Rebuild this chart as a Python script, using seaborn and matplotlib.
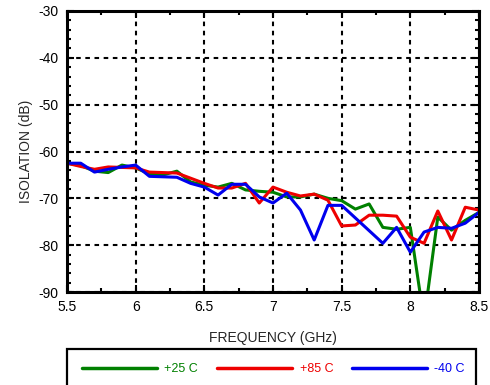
import matplotlib
matplotlib.use("Agg")
import matplotlib.pyplot as plt
import matplotlib.patches as mpatches
from matplotlib.ticker import MultipleLocator
import numpy as np
import pandas as pd
import seaborn as sns

# Frequency sweep (GHz) and isolation (dB) at three temperatures
freq_ghz = [5.5, 5.6, 5.7, 5.8, 5.9, 6.0, 6.1, 6.2, 6.3, 6.4, 6.5,
            6.6, 6.7, 6.8, 6.9, 7.0, 7.1, 7.2, 7.3, 7.4, 7.5,
            7.6, 7.7, 7.8, 7.9, 8.0, 8.1, 8.2, 8.3, 8.4, 8.5]

iso_p25 = [-62.5, -63.0, -64.2, -64.5, -62.9, -63.5, -64.8, -65.0, -64.2, -66.5, -67.2,
           -67.6, -66.8, -68.2, -68.5, -68.7, -69.7, -69.7, -69.1, -70.0, -70.5,
           -72.3, -71.2, -76.2, -76.6, -76.2, -96.0, -74.0, -76.8, -74.7, -73.0]

iso_p85 = [-62.5, -63.2, -63.8, -63.3, -63.4, -63.5, -64.4, -64.5, -64.6, -65.7, -66.8,
           -67.8, -67.8, -66.8, -71.0, -67.6, -68.7, -69.5, -69.1, -70.4, -75.9,
           -75.7, -73.6, -73.6, -73.8, -78.3, -79.6, -72.7, -78.9, -71.9, -72.5]

iso_m40 = [-62.5, -62.5, -64.4, -63.8, -63.3, -62.9, -65.3, -65.4, -65.5, -66.8, -67.6,
           -69.3, -67.0, -67.0, -69.7, -71.0, -68.9, -72.5, -78.9, -71.5, -71.5,
           -74.2, -76.9, -79.6, -76.2, -81.5, -77.2, -76.2, -76.4, -75.3, -73.0]

series_names = ["+25 C", "+85 C", "-40 C"]
series_colors = ["#008000", "#ee0000", "#0000ee"]

x_ticks = [5.5, 6, 6.5, 7, 7.5, 8, 8.5]
x_tick_labels = ["5.5", "6", "6.5", "7", "7.5", "8", "8.5"]
y_ticks = [-90, -80, -70, -60, -50, -40, -30]

df = pd.DataFrame({
    "freq": freq_ghz * 3,
    "iso": iso_p25 + iso_p85 + iso_m40,
    "temp": [series_names[0]] * len(freq_ghz)
            + [series_names[1]] * len(freq_ghz)
            + [series_names[2]] * len(freq_ghz),
})

sns.set_style("ticks")
plt.rcParams["font.family"] = ["Liberation Sans", "DejaVu Sans"]
plt.rcParams["axes.unicode_minus"] = False

fig = plt.figure(figsize=(4.9, 3.85), dpi=100)
ax = fig.add_axes([67 / 490, 1 - 292 / 385, (479 - 67) / 490, (292 - 11) / 385])

sns.lineplot(data=df, x="freq", y="iso", hue="temp", hue_order=series_names,
             palette=dict(zip(series_names, series_colors)), linewidth=2.2,
             legend=False, ax=ax, estimator=None, sort=False)

ax.set_xlim(5.5, 8.5)
ax.set_ylim(-90, -30)
ax.set_xticks(x_ticks)
ax.set_xticklabels(x_tick_labels)
ax.set_yticks(y_ticks)
ax.xaxis.set_minor_locator(MultipleLocator(0.25))
ax.yaxis.set_minor_locator(MultipleLocator(2))

ax.grid(True, which="major", color="black", linestyle=(0, (2.2, 2.2)), linewidth=1.5)
ax.set_axisbelow(True)

for sp in ax.spines.values():
    sp.set_linewidth(2.2)
    sp.set_color("black")

ax.tick_params(axis="both", which="both", direction="in", top=True, right=True,
               colors="black", labelsize=10, width=1.5)
ax.tick_params(axis="both", which="major", length=5, pad=6)
ax.tick_params(axis="both", which="minor", length=3)

ax.set_xlabel("FREQUENCY (GHz)", fontsize=10, labelpad=12)
ax.set_ylabel("ISOLATION (dB)", fontsize=10, labelpad=4)

# Legend in a box under the plot, running past the bottom edge
handles = [plt.Line2D([], [], color=c, linewidth=2.5) for c in series_colors]
leg = fig.legend(handles, series_names, loc="upper left",
                 bbox_to_anchor=(67 / 490, 1 - 348 / 385), ncol=3,
                 frameon=False, fontsize=9, handlelength=6.0, handletextpad=0.6,
                 columnspacing=1.5, borderpad=1.2, borderaxespad=0)
for txt, c in zip(leg.get_texts(), series_colors):
    txt.set_color(c)

box = mpatches.Rectangle((67 / 490, -0.05), (476 - 67) / 490, 0.05 + (385 - 349) / 385,
                         transform=fig.transFigure, fill=False, edgecolor="black",
                         linewidth=1.6, clip_on=False)
fig.patches.append(box)

fig.savefig("out.png", dpi=100)
